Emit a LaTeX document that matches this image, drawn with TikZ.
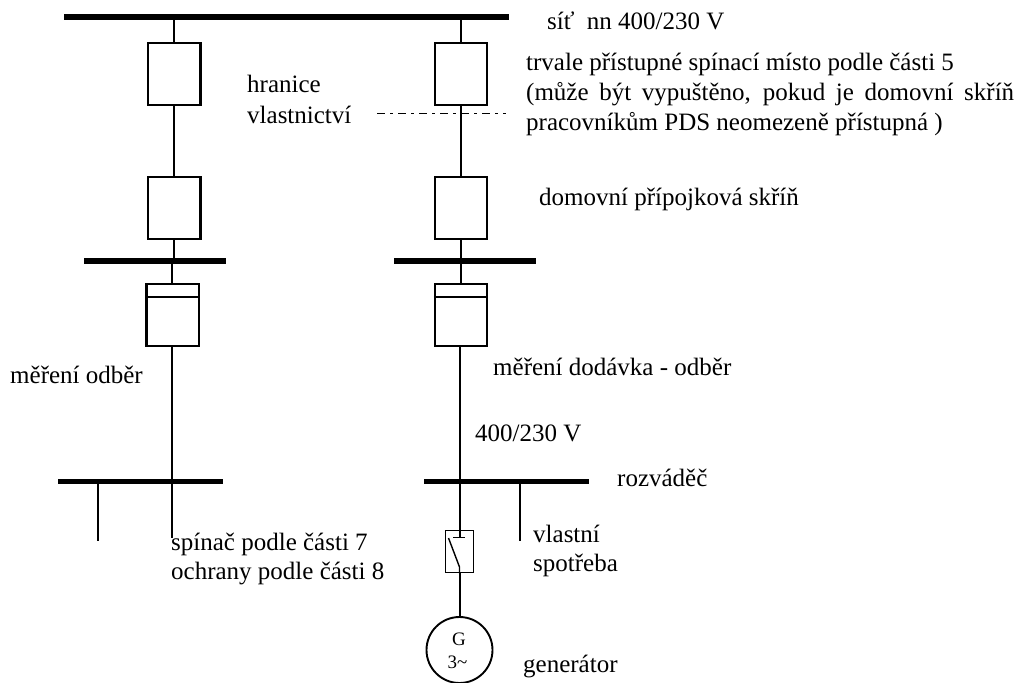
\documentclass[tikz,border=0pt]{standalone}
\usepackage{fontspec}
\setmainfont{Liberation Serif}
\tikzset{
  x=1pt,y=-1pt,
  bus/.style={line width=5.8pt,line cap=butt},
  wire/.style={line width=2pt},
  thinwire/.style={line width=1.7pt},
  unit/.style={draw,line width=2.2pt,minimum width=52.2pt,minimum height=61.8pt,inner sep=0pt,fill=white},
  lbl/.style={anchor=base west,inner sep=0pt,font=\fontsize{25}{29}\selectfont},
  small/.style={anchor=base,inner sep=0pt,font=\fontsize{19}{22}\selectfont}
}
\begin{document}
\begin{tikzpicture}
\useasboundingbox (0,0) rectangle (1016,682);
% buses
\coordinate (b1l) at (64,17); \coordinate (b1r) at (509,17);
\draw[bus] (b1l) -- (b1r);
\coordinate (b2l) at (84,261); \coordinate (b2lr) at (226,261);
\draw[bus] (b2l) -- (b2lr);
\coordinate (b2r) at (394,261); \coordinate (b2rr) at (536,261);
\draw[bus] (b2r) -- (b2rr);
\coordinate (b3l) at (58,481.5); \coordinate (b3lr) at (223,481.5);
\draw[bus] (b3l) -- (b3lr);
\coordinate (b3r) at (424,481.5); \coordinate (b3rr) at (589,481.5);
\draw[bus] (b3r) -- (b3rr);
% units
\node[unit] (a1) at (174.3,74) {};
\node[unit] (a2) at (174.3,208) {};
\node[unit] (a3) at (172.5,315) {};
\node[unit] (c1) at (461,74) {};
\node[unit] (c2) at (461,208) {};
\node[unit] (c3) at (461,315) {};
\draw[line width=2pt] ([yshift=-13.5pt]a3.north west) -- ([yshift=-13.5pt]a3.north east);
\draw[line width=2pt] ([yshift=-13.5pt]c3.north west) -- ([yshift=-13.5pt]c3.north east);
% left feeder
\coordinate (t1) at (174,17); \coordinate (t1b) at (174,43);
\coordinate (t1c) at (174,105); \coordinate (t1d) at (174,177);
\coordinate (t1e) at (174,239); \coordinate (t2) at (174,261);
\coordinate (t3) at (172,261); \coordinate (t3b) at (172,284);
\coordinate (t3c) at (172,346); \coordinate (t4) at (172,538);
\draw[wire] (t1) -- (t1b);
\draw[wire] (t1c) -- (t1d);
\draw[wire] (t1e) -- (t2);
\draw[wire] (t3) -- (t3b);
\draw[wire] (t3c) -- (t4);
% right feeder
\coordinate (u1) at (461,17); \coordinate (u2) at (461,261);
\coordinate (u4) at (459.5,346); \coordinate (u5) at (459.5,481);
\draw[wire] (u1) -- (c1.north);
\draw[wire] (c1.south) -- (c2.north);
\draw[wire] (c2.south) -- (u2) -- (c3.north);
\draw[wire] (u4) -- (u5);
% stubs
\coordinate (s1) at (98,481); \coordinate (s2) at (98,541);
\draw[thinwire] (s1) -- (s2);
\coordinate (s3) at (520,481); \coordinate (s4) at (520,541);
\draw[thinwire] (s3) -- (s4);
% ownership boundary
\coordinate (o1) at (377,113.5); \coordinate (o2) at (506,113.5);
\draw[line width=1.7pt,dash pattern=on 8pt off 5pt on 3pt off 5pt] (o1) -- (o2);
% switch
\node[draw,line width=1.5pt,minimum width=28pt,minimum height=42pt,inner sep=0pt] (sw) at (459.5,551.5) {};
\draw[wire] (u5) -- (sw.north);
\coordinate (sw1) at (453,537.5); \coordinate (sw2) at (465,537.5);
\draw[line width=1.4pt] (sw1) -- (sw2);
\coordinate (sw3) at (459.5,537.5); \draw[wire] (sw.north) -- (sw3);
\coordinate (sw4) at (448.5,538); \coordinate (sw5) at (459.5,567);
\draw[line width=1.4pt] (sw4) -- (sw5) -- (sw.south);
% generator
\node[draw,circle,line width=1.9pt,minimum size=66pt,inner sep=0pt] (g) at (459.5,650) {};
\draw[wire] (sw.south) -- (g.north);
\node[small] (gt) at (459,645) {G};
\node[small] (gn) at (457.5,668) {3\char`\~};
% labels
\node[lbl] (l1) at (547,30) {síť\kern6pt\ nn 400/230 V};
\node[lbl] (l2) at (526,71) {trvale přístupné spínací místo podle části 5};
\node[lbl] (l3) at (526,100) {\makebox[488pt][s]{(může být vypuštěno, pokud je domovní skříň}};
\node[lbl] (l4) at (526,130) {pracovníkům PDS neomezeně přístupná )};
\node[lbl] (l5) at (247,93) {hranice};
\node[lbl] (l6) at (247,123) {vlastnictví};
\node[lbl] (l7) at (539,205) {domovní přípojková skříň};
\node[lbl] (l8) at (10,383) {měření odběr};
\node[lbl] (l9) at (493,375) {měření dodávka - odběr};
\node[lbl] (l10) at (475,441) {400/230 V};
\node[lbl] (l11) at (617,486) {rozváděč};
\node[lbl] (l12) at (171,550) {spínač podle části 7};
\node[lbl] (l13) at (171,579) {ochrany podle části 8};
\node[lbl] (l14) at (533,542) {vlastní};
\node[lbl] (l15) at (533,571) {spotřeba};
\node[lbl] (l16) at (523,672) {generátor};
\end{tikzpicture}
\end{document}
